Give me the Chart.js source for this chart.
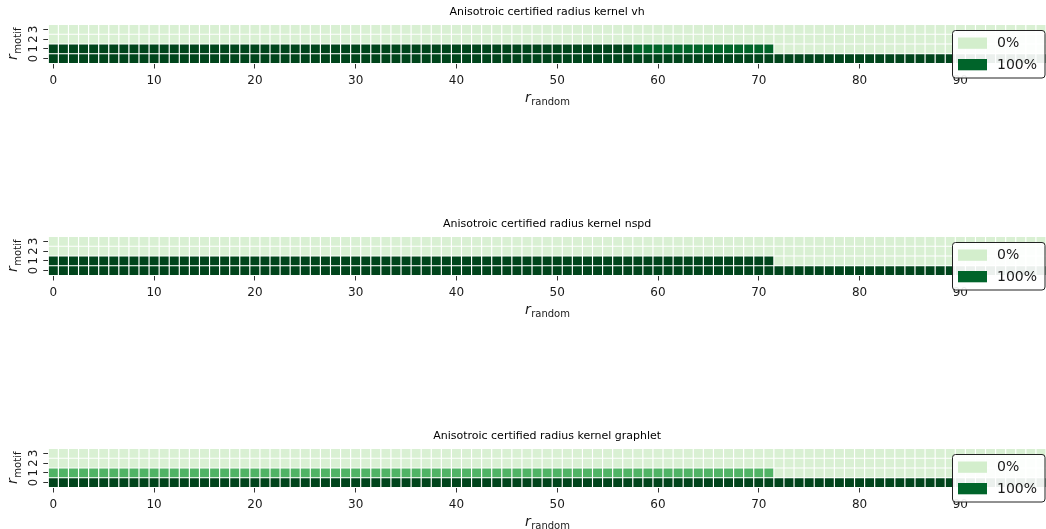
<!DOCTYPE html>
<html>
<head>
<meta charset="utf-8">
<script src="https://cdn.jsdelivr.net/npm/chart.js@4.4.1/dist/chart.umd.min.js"></script>
<style>
    html, body { margin: 0; padding: 0; background: #fff; overflow: hidden; }
    .panel { position: absolute; left: 0; }
</style>
</head>
<body>
<canvas id="panel-vh" class="panel" width="1046" height="112" style="top:0px"></canvas>
<canvas id="panel-nspd" class="panel" width="1046" height="112" style="top:212px"></canvas>
<canvas id="panel-graphlet" class="panel" width="1046" height="112" style="top:424px"></canvas>
<script>
        const FONT = '"DejaVu Sans", sans-serif';

        // r_random (columns)
        const randomRadii = [
            0, 1, 2, 3, 4, 5, 6, 7, 8, 9, 10, 11, 12, 13, 14, 15, 16, 17, 18, 19,
            20, 21, 22, 23, 24, 25, 26, 27, 28, 29, 30, 31, 32, 33, 34, 35, 36, 37, 38, 39,
            40, 41, 42, 43, 44, 45, 46, 47, 48, 49, 50, 51, 52, 53, 54, 55, 56, 57, 58, 59,
            60, 61, 62, 63, 64, 65, 66, 67, 68, 69, 70, 71, 72, 73, 74, 75, 76, 77, 78, 79,
            80, 81, 82, 83, 84, 85, 86, 87, 88, 89, 90, 91, 92, 93, 94, 95, 96, 97, 98
        ];
        // r_motif (rows, bottom to top)
        const motifLabels = ['0', '1', '2', '3'];
        const xTickValues = [0, 10, 20, 30, 40, 50, 60, 70, 80, 90];
        const legendLabels = ['0%', '100%'];

        const titles = {
            vh: 'Anisotroic certified radius kernel vh',
            nspd: 'Anisotroic certified radius kernel nspd',
            graphlet: 'Anisotroic certified radius kernel graphlet'
        };

        // share certified per cell, written as runs [value, number of columns]
        const vhMotif0 = [[1, 99]];
        const vhMotif1 = [[1, 58], [0.88, 14], [0, 27]];
        const vhMotif2 = [[0, 99]];
        const vhMotif3 = [[0, 99]];

        const nspdMotif0 = [[1, 99]];
        const nspdMotif1 = [[1, 72], [0, 27]];
        const nspdMotif2 = [[0, 99]];
        const nspdMotif3 = [[0, 99]];

        const graphletMotif0 = [[1, 99]];
        const graphletMotif1 = [[0.5, 72], [0, 27]];
        const graphletMotif2 = [[0, 99]];
        const graphletMotif3 = [[0, 99]];

        // matplotlib "Greens"
        const greensStops = ['#f7fcf5', '#e5f5e0', '#c7e9c0', '#a1d99b', '#74c476', '#41ab5d', '#238b45', '#006d2c', '#00441b'];

        function hexToRgb(h) {
            return [parseInt(h.slice(1, 3), 16), parseInt(h.slice(3, 5), 16), parseInt(h.slice(5, 7), 16)];
        }

        function greens(t) {
            const pos = Math.min(Math.max(t, 0), 1) * (greensStops.length - 1);
            const i = Math.min(Math.floor(pos), greensStops.length - 2);
            const f = pos - i;
            const a = hexToRgb(greensStops[i]);
            const b = hexToRgb(greensStops[i + 1]);
            const c = a.map((v, k) => Math.round(v + (b[k] - v) * f));
            return `rgb(${c[0]}, ${c[1]}, ${c[2]})`;
        }

        // value 0..1 -> colour (lowest value is not the white end of the map)
        function cellColor(v) {
            return greens(0.175 + 0.825 * v);
        }

        function expandRuns(runs) {
            const out = [];
            runs.forEach(([v, n]) => {
                for (let i = 0; i < n; i++) out.push(v);
            });
            return out;
        }

        // axis titles with subscript + legend box
        const decorPlugin = {
            id: 'decor',
            afterDraw(chart) {
                const ctx = chart.ctx;
                const area = chart.chartArea;
                ctx.save();
                ctx.fillStyle = '#1a1a1a';
                ctx.textBaseline = 'alphabetic';

                // x title: r_random
                const mainFont = `italic 14px ${FONT}`;
                const subFont = `10px ${FONT}`;
                ctx.font = mainFont;
                const wMain = ctx.measureText('r').width;
                ctx.font = subFont;
                const wSubX = ctx.measureText('random').width;
                let x0 = (area.left + area.right) / 2 - (wMain + wSubX) / 2;
                const yBase = area.bottom + 38;
                ctx.font = mainFont;
                ctx.fillText('r', x0, yBase);
                ctx.font = subFont;
                ctx.fillText('random', x0 + wMain + 0.5, yBase + 3.5);

                // y title: r_motif (rotated)
                ctx.font = subFont;
                const wSubY = ctx.measureText('motif').width;
                ctx.save();
                ctx.translate(17, (area.top + area.bottom) / 2);
                ctx.rotate(-Math.PI / 2);
                const s = -(wMain + wSubY) / 2;
                ctx.font = mainFont;
                ctx.fillText('r', s, 0);
                ctx.font = subFont;
                ctx.fillText('motif', s + wMain + 0.5, 3.5);
                ctx.restore();

                // legend
                const lx = area.right - 93.5;
                const ly = area.top + 6;
                ctx.beginPath();
                ctx.roundRect(lx, ly, 92.5, 47.5, 3);
                ctx.fillStyle = 'rgba(255, 255, 255, 0.92)';
                ctx.fill();
                ctx.strokeStyle = '#222';
                ctx.lineWidth = 1;
                ctx.stroke();

                const patchColors = ['#d3eecc', '#00642a'];
                ctx.font = `14px ${FONT}`;
                ctx.textBaseline = 'middle';
                legendLabels.forEach((lab, i) => {
                    const py = ly + 7 + i * 21.5;
                    ctx.fillStyle = patchColors[i];
                    ctx.fillRect(lx + 5.5, py, 29, 11.3);
                    ctx.fillStyle = '#1a1a1a';
                    ctx.fillText(lab, lx + 44.5, py + 6);
                });
                ctx.restore();
            }
        };

        function makeHeatmap(canvasId, title, rows) {
            const datasets = rows.map((runs, m) => {
                const vals = expandRuns(runs);
                return {
                    label: 'r_motif ' + motifLabels[m],
                    data: randomRadii.map(r => ({ x: r, y: 1 })),
                    backgroundColor: vals.map(cellColor),
                    borderColor: '#ffffff',
                    borderWidth: 0.9,
                    borderSkipped: false,
                    barPercentage: 1,
                    categoryPercentage: 1
                };
            });

            return new Chart(document.getElementById(canvasId), {
                type: 'bar',
                data: { datasets: datasets },
                options: {
                    responsive: false,
                    animation: false,
                    events: [],
                    layout: { padding: 0 },
                    plugins: {
                        legend: { display: false },
                        tooltip: { enabled: false },
                        title: {
                            display: true,
                            text: title,
                            fullSize: false,
                            color: '#000',
                            font: { family: FONT, size: 11, weight: 'normal' },
                            padding: { top: 5.5, bottom: 5.8 }
                        }
                    },
                    scales: {
                        x: {
                            type: 'linear',
                            stacked: true,
                            offset: false,
                            min: -0.5,
                            max: randomRadii.length - 0.5,
                            afterBuildTicks: scale => {
                                scale.ticks = xTickValues.map(v => ({ value: v }));
                            },
                            afterFit: scale => { scale.height = 48.5; },
                            ticks: {
                                autoSkip: false,
                                maxRotation: 0,
                                padding: 5,
                                color: '#1a1a1a',
                                font: { family: FONT, size: 12 }
                            },
                            grid: {
                                offset: false,
                                drawOnChartArea: false,
                                tickLength: 5,
                                color: '#333',
                                lineWidth: 1
                            },
                            border: { display: false }
                        },
                        y: {
                            type: 'linear',
                            stacked: true,
                            offset: false,
                            min: 0,
                            max: motifLabels.length,
                            afterBuildTicks: scale => {
                                scale.ticks = motifLabels.map((l, i) => ({ value: i + 0.5 }));
                            },
                            afterFit: scale => { scale.width = 48.3; },
                            ticks: {
                                autoSkip: false,
                                minRotation: 90,
                                maxRotation: 90,
                                crossAlign: 'center',
                                padding: 6,
                                color: '#1a1a1a',
                                font: { family: FONT, size: 11.5 },
                                callback: v => motifLabels[Math.round(v - 0.5)]
                            },
                            grid: {
                                offset: false,
                                drawOnChartArea: false,
                                tickLength: 5,
                                color: '#333',
                                lineWidth: 1
                            },
                            border: { display: false }
                        }
                    }
                },
                plugins: [decorPlugin]
            });
        }

        makeHeatmap('panel-vh', titles.vh, [vhMotif0, vhMotif1, vhMotif2, vhMotif3]);
        makeHeatmap('panel-nspd', titles.nspd, [nspdMotif0, nspdMotif1, nspdMotif2, nspdMotif3]);
        makeHeatmap('panel-graphlet', titles.graphlet, [graphletMotif0, graphletMotif1, graphletMotif2, graphletMotif3]);
</script>
</body>
</html>
